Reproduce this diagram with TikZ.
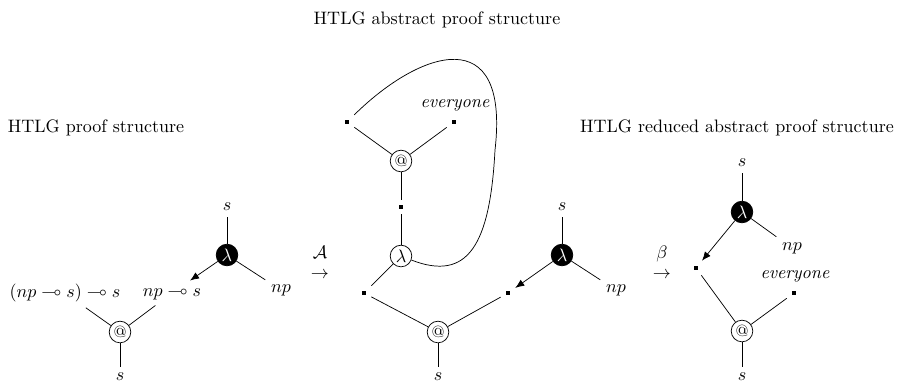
\documentclass[tikz,border=0pt]{standalone}
\usepackage{amsmath}
\usepackage{amssymb}
\usepackage{tikz}
\usetikzlibrary{arrows.meta}

\begin{document}
\begin{tikzpicture}[
  x=0.555pt,
  y=-0.555pt,
  app/.style={draw, circle, inner sep=0pt, minimum size=12pt, font=\small},
  blam/.style={draw, circle, fill=black, text=white, inner sep=0pt, minimum size=12pt},
  wlam/.style={draw, circle, inner sep=0pt, minimum size=12pt},
  vtx/.style={inner sep=3pt},
  lbl/.style={inner sep=3pt},
  tip/.style={-{Latex[length=5pt,width=4pt]}}
]
  \useasboundingbox (0,0) rectangle (901,382);

  \node (titleL) at (96,128) {HTLG proof structure};
  \node (titleM) at (437,20) {HTLG abstract proof structure};
  \node (titleR) at (737,128) {HTLG reduced abstract proof structure};

  \node[app] (atL) at (120,332) {@};
  \node[lbl] (sLb) at (120,377) {$s$};
  \node[lbl] (tyA) at (65,293) {$(np \multimap s) \multimap s$};
  \node[lbl] (tyB) at (172,293) {$np \multimap s$};
  \node[blam] (lamL) at (227,255) {$\lambda$};
  \node[lbl] (sLt) at (227,207) {$s$};
  \node[lbl] (npL) at (281,290) {$np$};
  \draw (atL) -- (sLb);
  \draw (atL) -- (tyA);
  \draw (atL) -- (tyB);
  \draw (lamL) -- (sLt);
  \draw (lamL) -- (npL);
  \draw[tip] (lamL) -- (tyB);

  \node (toA) at (320,262) [align=center] {$\mathcal{A}$\\[-1pt]$\to$};

  \node[vtx] (dA) at (347,122) {\rule{1.7pt}{1.7pt}};
  \node[vtx] (dB) at (454,122) {\rule{1.7pt}{1.7pt}};
  \node (evM) at (455,105) {\textit{everyone}};
  \node[app] (atM) at (401,161) {@};
  \node[vtx] (dC) at (401,207) {\rule{1.7pt}{1.7pt}};
  \node[wlam] (lamM) at (401,256) {$\lambda$};
  \node[vtx] (dD) at (364,293) {\rule{1.7pt}{1.7pt}};
  \node[vtx] (dE) at (508,293) {\rule{1.7pt}{1.7pt}};
  \node[app] (atN) at (438,332) {@};
  \node[lbl] (sMb) at (438,377) {$s$};
  \node[blam] (lamN) at (562,255) {$\lambda$};
  \node[lbl] (sMt) at (562,207) {$s$};
  \node[lbl] (npM) at (616,290) {$np$};
  \draw (atM) -- (dA);
  \draw (atM) -- (dB);
  \draw (atM) -- (dC);
  \draw (dC) -- (lamM);
  \draw (lamM) -- (dD);
  \draw (atN) -- (dD);
  \draw (atN) -- (dE);
  \draw (atN) -- (sMb);
  \draw (lamN) -- (sMt);
  \draw (lamN) -- (npM);
  \draw[tip] (lamN) -- (dE);
  \draw (dA) .. controls (420,50) and (510,20) .. (495,150)
             .. controls (490,245) and (468,282) .. (lamM);

  \node (toB) at (662,262) [align=center] {$\beta$\\[-1pt]$\to$};

  \node[lbl] (sRt) at (742,163) {$s$};
  \node[blam] (lamR) at (742,212) {$\lambda$};
  \node[lbl] (npR) at (792,248) {$np$};
  \node[vtx] (dF) at (696,268) {\rule{1.7pt}{1.7pt}};
  \node (evR) at (795,276) {\textit{everyone}};
  \node[vtx] (dG) at (794,293) {\rule{1.7pt}{1.7pt}};
  \node[app] (atR) at (742,331) {@};
  \node[lbl] (sRb) at (742,377) {$s$};
  \draw (lamR) -- (sRt);
  \draw (lamR) -- (npR);
  \draw[tip] (lamR) -- (dF);
  \draw (atR) -- (dF);
  \draw (atR) -- (dG);
  \draw (atR) -- (sRb);
\end{tikzpicture}
\end{document}
